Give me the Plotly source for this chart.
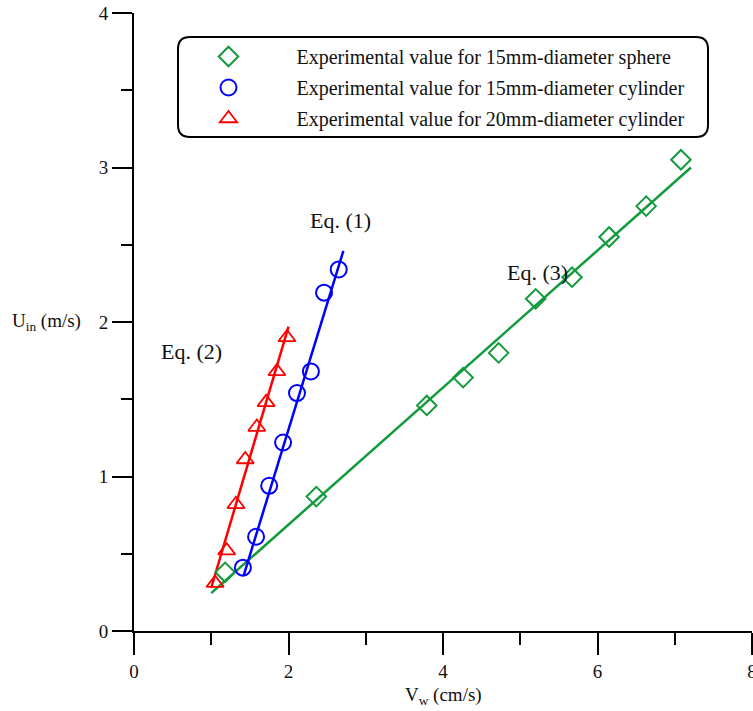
import plotly.graph_objects as go

# ---- data ----
sphere_x = [1.18, 2.36, 3.79, 4.26, 4.72, 5.20, 5.67, 6.15, 6.63, 7.08]
sphere_y = [0.38, 0.87, 1.46, 1.64, 1.80, 2.15, 2.29, 2.55, 2.75, 3.05]

cyl15_x = [1.41, 1.58, 1.75, 1.93, 2.11, 2.29, 2.46, 2.65]
cyl15_y = [0.41, 0.61, 0.94, 1.22, 1.54, 1.68, 2.19, 2.34]

cyl20_x = [1.05, 1.20, 1.32, 1.44, 1.59, 1.71, 1.85, 1.98]
cyl20_y = [0.31, 0.52, 0.82, 1.11, 1.32, 1.48, 1.68, 1.90]

# fitted equation lines (end points)
eq1_x = [1.42, 2.71]
eq1_y = [0.36, 2.46]
eq2_x = [1.00, 2.00]
eq2_y = [0.28, 1.97]
eq3_x = [1.00, 7.21]
eq3_y = [0.245, 3.00]

labels = ["Experimental value for 15mm-diameter sphere",
          "Experimental value for 15mm-diameter cylinder",
          "Experimental value for 20mm-diameter cylinder"]
eq_labels = ["Eq. (1)", "Eq. (2)", "Eq. (3)"]
eq_pos_x = [2.67, 0.74, 5.22]
eq_pos_y = [2.66, 1.81, 2.32]

GREEN = "#129a3c"
BLUE = "#0000ff"
RED = "#ff0000"
FONT = "Liberation Serif"

fig = go.Figure()

# fit lines
for xs, ys, c in [(eq3_x, eq3_y, GREEN), (eq1_x, eq1_y, BLUE), (eq2_x, eq2_y, RED)]:
    fig.add_trace(go.Scatter(x=xs, y=ys, mode="lines", line=dict(color=c, width=2.5),
                             showlegend=False, hoverinfo="skip"))

fig.add_trace(go.Scatter(x=sphere_x, y=sphere_y, mode="markers", name=labels[0],
                         legendgroup="a",
                         marker=dict(symbol="diamond-open", size=15, color=GREEN,
                                     line=dict(width=2, color=GREEN))))
fig.add_trace(go.Scatter(x=cyl15_x, y=cyl15_y, mode="markers", name=labels[1],
                         legendgroup="b",
                         marker=dict(symbol="circle-open", size=16, color=BLUE,
                                     line=dict(width=2, color=BLUE))))
fig.add_trace(go.Scatter(x=cyl20_x, y=cyl20_y, mode="markers", name=labels[2],
                         legendgroup="c",
                         marker=dict(symbol="triangle-up-open", size=15, color=RED,
                                     line=dict(width=1.8, color=RED))))

for t, x, y in zip(eq_labels, eq_pos_x, eq_pos_y):
    fig.add_annotation(x=x, y=y, text=t, showarrow=False,
                       font=dict(family=FONT, size=22, color="#111"))

# axis titles
fig.add_annotation(xref="paper", yref="y", x=-0.083, y=2.0, xanchor="right", yanchor="middle",
                   text="U<sub>in</sub> (m/s)", showarrow=False,
                   font=dict(family=FONT, size=19, color="#111"))
fig.add_annotation(xref="x", yref="paper", x=4, y=-0.082, xanchor="center", yanchor="top",
                   text="V<sub>w</sub> (cm/s)", showarrow=False,
                   font=dict(family=FONT, size=19, color="#111"))

# rounded legend frame
x0, x1 = (178 - 134) / 618, (708 - 134) / 618
y1, y0 = (631 - 37) / 618, (631 - 137) / 618
r = 12 / 618
path = (f"M {x0+r},{y1} L {x1-r},{y1} Q {x1},{y1} {x1},{y1-r} L {x1},{y0+r} "
        f"Q {x1},{y0} {x1-r},{y0} L {x0+r},{y0} Q {x0},{y0} {x0},{y0+r} "
        f"L {x0},{y1-r} Q {x0},{y1} {x0+r},{y1} Z")
fig.add_shape(type="path", path=path, xref="paper", yref="paper",
              line=dict(color="black", width=2))

axis_common = dict(showline=True, linecolor="black", linewidth=2, showgrid=False,
                   zeroline=False, ticks="outside", tickcolor="black", tickwidth=2,
                   tickfont=dict(family=FONT, size=19, color="#111"), mirror=False,
                   ticklabeloverflow="allow", automargin=False)

fig.update_xaxes(range=[0, 8], tickvals=[0, 2, 4, 6, 8], ticklen=22,
                 minor=dict(ticks="outside", dtick=1, ticklen=12, tickwidth=2, tickcolor="black"),
                 **axis_common)
fig.update_yaxes(range=[0, 4], tickvals=[0, 1, 2, 3, 4], ticklen=20,
                 minor=dict(ticks="outside", dtick=0.5, ticklen=11, tickwidth=2, tickcolor="black"),
                 **axis_common)

fig.update_layout(
    width=753, height=711,
    margin=dict(l=134, r=1, t=13, b=80, pad=0, autoexpand=False),
    plot_bgcolor="white", paper_bgcolor="white",
    font=dict(family=FONT, size=19, color="#111"),
    legend=dict(x=(160.5 - 134) / 618, y=y1 + 0.0, xanchor="left", yanchor="top",
                bgcolor="rgba(0,0,0,0)", borderwidth=0, itemwidth=126,
                traceorder="grouped", tracegroupgap=2,
                font=dict(family=FONT, size=20, color="#111")),
    showlegend=True,
)

fig.write_html("out.html")
